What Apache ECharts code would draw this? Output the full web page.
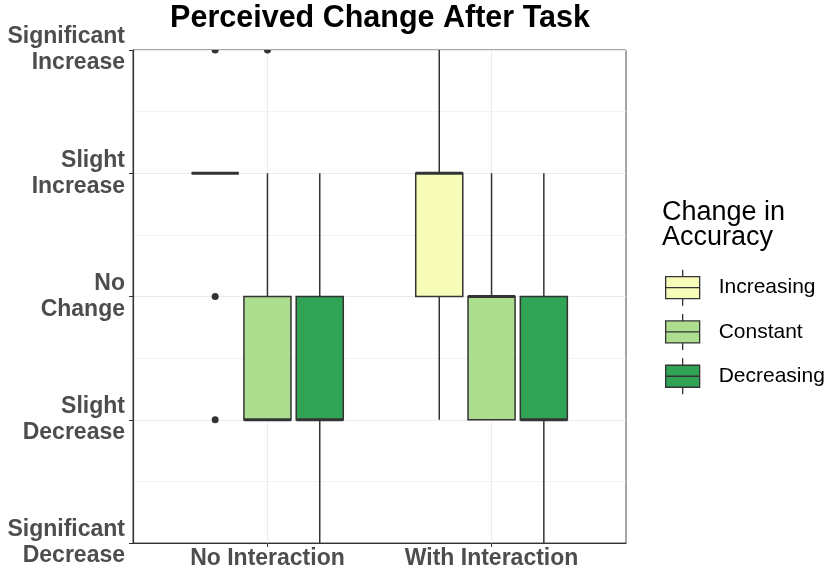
<!DOCTYPE html>
<html>
<head>
<meta charset="utf-8">
<script src="https://cdn.jsdelivr.net/npm/echarts@6/dist/echarts.min.js"></script>
<style>
html,body{margin:0;padding:0;background:#fff;}
#chart{width:830px;height:571px;}
</style>
</head>
<body>
<div id="chart"></div>
<script>
// ---- data ----
const categories = ['No Interaction', 'With Interaction'];
const groups = ['Increasing', 'Constant', 'Decreasing'];
const groupColors = ['#F7FCB9', '#ADDD8E', '#31A354'];
// [min, Q1, median, Q3, max] per category
const increasingStats = [[1, 1, 1, 1, 1], [-1, 0, 1, 1, 2]];
const constantStats   = [[-1, -1, -1, 0, 1], [-1, -1, 0, 0, 1]];
const decreasingStats = [[-2, -1, -1, 0, 1], [-2, -1, -1, 0, 1]];
const increasingOutliers = [[2, 0, -1], []];
const constantOutliers   = [[2], []];
const decreasingOutliers = [[], []];
const yTickValues = [-2, -1, 0, 1, 2];
const yTickLabels = ['Significant\nDecrease', 'Slight\nDecrease', 'No\nChange', 'Slight\nIncrease', 'Significant\nIncrease'];
const titleText = 'Perceived Change After Task';
const legendTitle = 'Change in\nAccuracy';

// ---- build ----
const statsByGroup = [increasingStats, constantStats, decreasingStats];
const outliersByGroup = [increasingOutliers, constantOutliers, decreasingOutliers];
const DODGE = 0.7 / 3;
const BOX_W = DODGE * 0.9;
const FONT = '"Liberation Sans", Arial, Helvetica, sans-serif';
const DARK = '#333333';

function renderBox(params, api) {
  const x = api.value(0);
  const pLo = api.coord([x, api.value(1)]);
  const pQ1 = api.coord([x, api.value(2)]);
  const pMed = api.coord([x, api.value(3)]);
  const pQ3 = api.coord([x, api.value(4)]);
  const pHi = api.coord([x, api.value(5)]);
  const w = api.size([BOX_W, 0])[0];
  const cx = pMed[0];
  const color = api.visual('color');
  const ls = {stroke: DARK, lineWidth: 1.5};
  const children = [];
  if (pHi[1] !== pQ3[1]) children.push({type: 'line', shape: {x1: cx, y1: pQ3[1], x2: cx, y2: pHi[1]}, style: ls});
  if (pLo[1] !== pQ1[1]) children.push({type: 'line', shape: {x1: cx, y1: pQ1[1], x2: cx, y2: pLo[1]}, style: ls});
  children.push({type: 'rect', shape: {x: cx - w / 2, y: pQ3[1], width: w, height: pQ1[1] - pQ3[1]},
    style: {fill: color, stroke: DARK, lineWidth: 1.5}});
  children.push({type: 'line', shape: {x1: cx - w / 2, y1: pMed[1], x2: cx + w / 2, y2: pMed[1]},
    style: {stroke: DARK, lineWidth: 3}});
  return {type: 'group', children: children};
}

function renderOutlier(params, api) {
  const p = api.coord([api.value(0), api.value(1)]);
  return {type: 'circle', shape: {cx: p[0], cy: p[1], r: 3.5}, style: {fill: DARK}};
}

const series = [];
const outlierData = [];
groups.forEach(function (g, gi) {
  const data = [];
  categories.forEach(function (c, ci) {
    const x = ci + 1 + (gi - 1) * DODGE;
    data.push([x].concat(statsByGroup[gi][ci]));
    outliersByGroup[gi][ci].forEach(function (v) { outlierData.push([x, v]); });
  });
  series.push({
    name: g,
    type: 'custom',
    renderItem: renderBox,
    itemStyle: {color: groupColors[gi]},
    encode: {x: 0, y: [1, 2, 3, 4, 5]},
    data: data,
    z: 3
  });
});
series.push({
  name: 'outliers',
  type: 'custom',
  renderItem: renderOutlier,
  clip: true,
  itemStyle: {color: DARK},
  encode: {x: 0, y: 1},
  data: outlierData,
  z: 4
});

const option = {
  backgroundColor: '#ffffff',
  animation: false,
  title: [
    {text: titleText, left: 380, top: 3, textAlign: 'center', padding: 0,
      textStyle: {fontFamily: FONT, fontSize: 30.5, fontWeight: 'bold', color: '#000'}},
    {text: legendTitle, left: 662, top: 200, padding: 0,
      textStyle: {fontFamily: FONT, fontSize: 27, fontWeight: 'normal', color: '#000', lineHeight: 25}}
  ],
  legend: {
    data: groups,
    orient: 'vertical',
    left: 665,
    top: 269,
    padding: 0,
    itemWidth: 34,
    itemHeight: 36,
    itemGap: 7,
    icon: 'path://M17,0 L17,7 M0,7 L34,7 L34,29 L0,29 Z M0,18 L34,18 M17,29 L17,36',
    itemStyle: {borderColor: DARK, borderWidth: 1.3},
    textStyle: {fontFamily: FONT, fontSize: 21, color: '#000', padding: [0, 0, 0, 14]},
    selectedMode: false
  },
  grid: {
    left: 133, right: 204, top: 50, bottom: 28,
    show: true, borderColor: '#4d4d4d', borderWidth: 1, backgroundColor: '#fff'
  },
  xAxis: {
    type: 'value',
    min: 0.4,
    max: 2.6,
    axisLine: {show: true, onZero: false, lineStyle: {color: DARK, width: 1.2}},
    axisTick: {show: true, length: 4, customValues: [1, 2], lineStyle: {color: DARK}},
    axisLabel: {
      customValues: [1, 2],
      margin: 4,
      fontFamily: FONT, fontSize: 23, fontWeight: 'bold', color: '#4d4d4d',
      formatter: function (v) { return categories[Math.round(v) - 1] || ''; }
    },
    splitLine: {show: true, lineStyle: {color: '#ebebeb', width: 1.1}}
  },
  yAxis: {
    type: 'value',
    min: -2,
    max: 2,
    interval: 1,
    axisLine: {show: true, lineStyle: {color: DARK, width: 1.2}},
    axisTick: {show: true, length: 4, lineStyle: {color: DARK}},
    axisLabel: {
      margin: 8,
      fontFamily: FONT, fontSize: 23, fontWeight: 'bold', color: '#4d4d4d', lineHeight: 26, align: 'right',
      formatter: function (v) { const i = yTickValues.indexOf(v); return i >= 0 ? yTickLabels[i] : ''; }
    },
    splitLine: {show: true, lineStyle: {color: '#ebebeb', width: 1.1}},
    minorTick: {show: false, splitNumber: 2},
    minorSplitLine: {show: true, lineStyle: {color: '#f0f0f0', width: 0.8}}
  },
  series: series
};

const chart = echarts.init(document.getElementById('chart'), null, {renderer: 'canvas'});
chart.setOption(option);
</script>
</body>
</html>
